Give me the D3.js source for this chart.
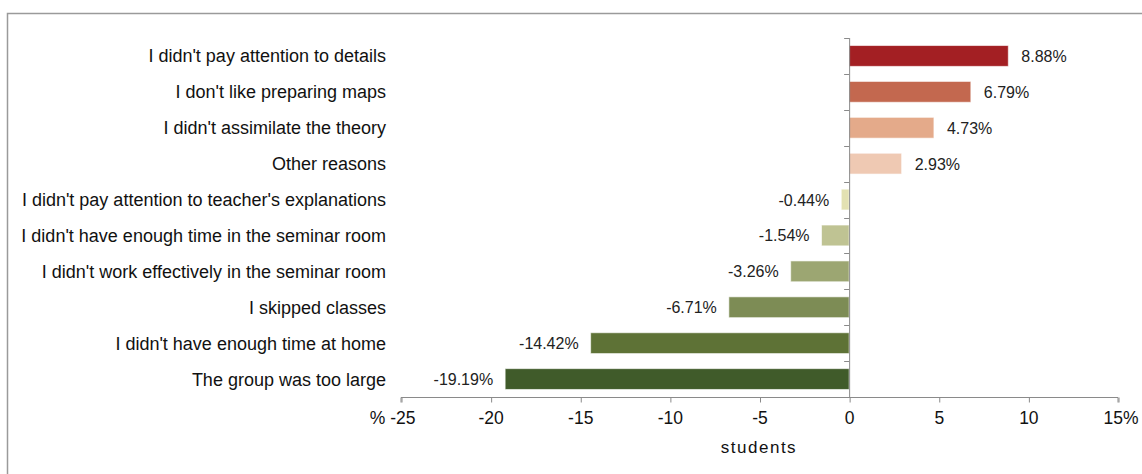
<!DOCTYPE html>
<html><head><meta charset="utf-8">
<script src="https://cdn.jsdelivr.net/npm/d3@7"></script>
<style>body{margin:0;background:#fff}svg{display:block;font-family:"Liberation Sans",Arial,sans-serif}</style>
</head><body><svg id="c" width="1142" height="474"></svg>
<script>
const categories = ["I didn't pay attention to details","I don't like preparing maps","I didn't assimilate the theory","Other reasons","I didn't pay attention to teacher's explanations","I didn't have enough time in the seminar room","I didn't work effectively in the seminar room","I skipped classes","I didn't have enough time at home","The group was too large"];
const values = [8.88, 6.79, 4.73, 2.93, -0.44, -1.54, -3.26, -6.71, -14.42, -19.19];
const colors = ["#a31f23","#c3684f","#e4aa8a","#efc9b3","#e3e1b2","#bfc393","#9ca672","#7d8c55","#5e7236","#405b2a"];
const tickValues = [-25,-20,-15,-10,-5,0,5,10,15];
const tickLabels = ["% -25","-20","-15","-10","-5","0","5","10","15%"];
const axisTitle = "students";

const svg = d3.select("#c");
svg.append("rect").attr("x",7.5).attr("y",13.5).attr("width",1200).attr("height",500)
  .attr("fill","none").attr("stroke","#9a9a9a").attr("stroke-width",1.5);

const x = d3.scaleLinear().domain([-25,15]).range([401,1118]);
const y = d3.scaleBand().domain(categories).range([38,397]).paddingInner(0.42).paddingOuter(0.21);
const yb = d3.scaleBand().domain(categories).range([38,397]);

// bars
svg.selectAll("rect.bar").data(values).join("rect").attr("class","bar")
  .attr("x",d=>x(Math.min(0,d))).attr("width",d=>Math.abs(x(d)-x(0)))
  .attr("y",(d,i)=>y(categories[i])).attr("height",y.bandwidth())
  .attr("fill",(d,i)=>colors[i]).attr("stroke","rgba(255,255,255,0.6)").attr("stroke-width",1);

// value labels
svg.selectAll("text.val").data(values).join("text").attr("class","val")
  .attr("x",d=>d>=0? x(d)+13 : x(d)-12)
  .attr("y",(d,i)=>y(categories[i])+y.bandwidth()/2+6)
  .attr("text-anchor",d=>d>=0?"start":"end")
  .attr("font-size",16).attr("fill","#222")
  .text(d=>d.toFixed(2)+"%");

// category labels
svg.selectAll("text.cat").data(categories).join("text").attr("class","cat")
  .attr("x",386).attr("y",d=>y(d)+y.bandwidth()/2+6.5)
  .attr("text-anchor","end").attr("font-size",18).attr("fill","#111").text(d=>d);

// y axis (zero line with ticks at band boundaries)
const yAx = svg.append("g");
yAx.append("line").attr("x1",x(0)+0.5).attr("x2",x(0)+0.5).attr("y1",38).attr("y2",397).attr("stroke","#8a8a8a");
yAx.selectAll("line.t").data(categories).join("line").attr("class","t")
  .attr("x1",x(0)-5).attr("x2",x(0)).attr("y1",d=>Math.round(yb(d))+0.5).attr("y2",d=>Math.round(yb(d))+0.5).attr("stroke","#8a8a8a");

// x axis
const xAxis = d3.axisBottom(x).tickValues(tickValues).tickSize(5).tickFormat((d,i)=>tickLabels[i]);
const gx = svg.append("g").attr("transform","translate(0,397.5)").call(xAxis);
gx.select(".domain").attr("stroke","#8a8a8a").attr("d",`M${x(-25)},5V0H${x(15)}V5`);
gx.selectAll(".tick line").attr("stroke","#8a8a8a").attr("transform","translate(0.5,0)");
gx.selectAll(".tick text").attr("font-size",17.5).attr("fill","#111").attr("dy",0).attr("y",26.5)
  .attr("font-family","Liberation Sans, Arial, sans-serif");
gx.selectAll(".tick text").filter((d,i)=>i===0).attr("text-anchor","end").attr("dx",14);
gx.selectAll(".tick text").filter((d,i)=>i===tickValues.length-1).attr("text-anchor","start").attr("dx",-15);

svg.append("text").attr("x",759).attr("y",453).attr("text-anchor","middle")
  .attr("font-size",17).attr("fill","#111").attr("letter-spacing",1.5).text(axisTitle);
</script></body></html>
